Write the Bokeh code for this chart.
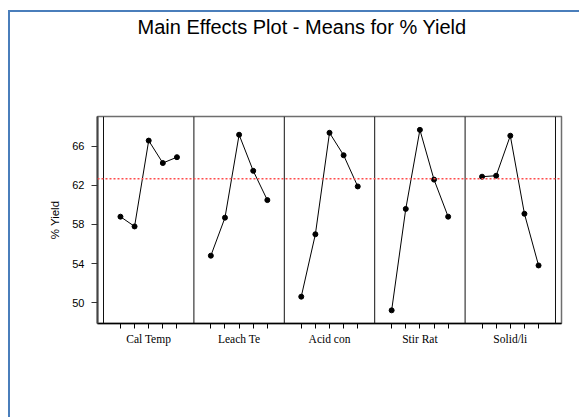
from bokeh.plotting import figure
from bokeh.models import Span, FixedTicker, Range1d, Title
from bokeh.embed import file_html
from bokeh.resources import INLINE

# ---- data ----
factors = ["Cal Temp", "Leach Te", "Acid con", "Stir Rat", "Solid/li"]
cal_temp = [58.8, 57.8, 66.6, 64.3, 64.9]
leach_te = [54.8, 58.7, 67.2, 63.5, 60.5]
acid_con = [50.6, 57.0, 67.4, 65.1, 61.9]
stir_rat = [49.2, 59.6, 67.7, 62.6, 58.8]
solid_li = [62.9, 63.0, 67.1, 59.1, 53.8]
series = [cal_temp, leach_te, acid_con, stir_rat, solid_li]
grand_mean = 62.7
y_ticks = [50, 54, 58, 62, 66]

title_text = "Main Effects Plot - Means for % Yield"
y_label = "% Yield"

# ---- layout (panel geometry in data units) ----
PANEL_W = 6.4
FIRST = 1.2
PAD = 0.425

# canvas is offset by margin (8, 10) + 2px blue border -> origin at (10, 12)
p = figure(width=571, height=407, output_backend="svg", toolbar_location=None,
           x_range=Range1d(-PAD, len(factors) * PANEL_W + PAD),
           y_range=Range1d(47.85, 69.07),
           min_border_left=87, min_border_right=20,
           min_border_top=104, min_border_bottom=96)
p.margin = (10, 0, 0, 8)
p.styles = {"border-left": "2px solid #4a7ebb", "border-top": "2px solid #4a7ebb"}
p.background_fill_color = "white"
p.border_fill_color = "white"
p.xgrid.visible = False
p.ygrid.visible = False
p.outline_line_color = "#6e6e6e"
p.outline_line_width = 1.5
p.title.visible = False

# spacer between frame and title, then the title itself (further out)
p.add_layout(Title(text=" ", standoff=76, text_font_size="1px"), "above")
p.add_layout(Title(text=title_text, align="left", offset=40, standoff=0,
                   text_font="Liberation Sans", text_font_size="20px",
                   text_font_style="normal", text_color="black"), "above")

# panel boundary lines
for i in range(len(factors) + 1):
    p.add_layout(Span(location=i * PANEL_W, dimension="height",
                      line_color="#111111", line_width=1))

# grand mean reference line
p.add_layout(Span(location=grand_mean, dimension="width",
                  line_color="#ff4d4d", line_width=1.5, line_dash="2 2"))

tick_pos = []
overrides = {}
for i, vals in enumerate(series):
    xs = [round(i * PANEL_W + FIRST + k, 6) for k in range(len(vals))]
    p.line(xs, vals, line_color="black", line_width=1)
    p.scatter(xs, vals, size=5, color="black")
    for k, x in enumerate(xs):
        tick_pos.append(x)
        overrides[x] = factors[i] if k == len(vals) // 2 else ""

# x axis
xa = p.xaxis[0]
xa.ticker = FixedTicker(ticks=tick_pos)
xa.major_label_overrides = overrides
xa.minor_tick_line_color = None
xa.major_tick_in = 0
xa.major_tick_out = 5
xa.major_tick_line_color = "black"
xa.axis_line_color = "black"
xa.axis_line_width = 1.5
xa.major_label_text_font = "Liberation Serif"
xa.major_label_text_font_size = "11.5px"
xa.major_label_text_color = "black"
xa.major_label_standoff = 4

# y axis
ya = p.yaxis[0]
ya.ticker = FixedTicker(ticks=y_ticks)
ya.minor_tick_line_color = None
ya.major_tick_in = 0
ya.major_tick_out = 6
ya.major_tick_line_color = "#333333"
ya.axis_line_color = "#444444"
ya.axis_line_width = 2
ya.major_label_text_font = "Liberation Sans"
ya.major_label_text_font_size = "11px"
ya.major_label_text_color = "black"
ya.major_label_standoff = 7
ya.axis_label = y_label
ya.axis_label_text_font = "Liberation Sans"
ya.axis_label_text_font_size = "11.5px"
ya.axis_label_text_font_style = "normal"
ya.axis_label_text_color = "black"
ya.axis_label_standoff = 8

open("out.html", "w").write(file_html(p, INLINE))
